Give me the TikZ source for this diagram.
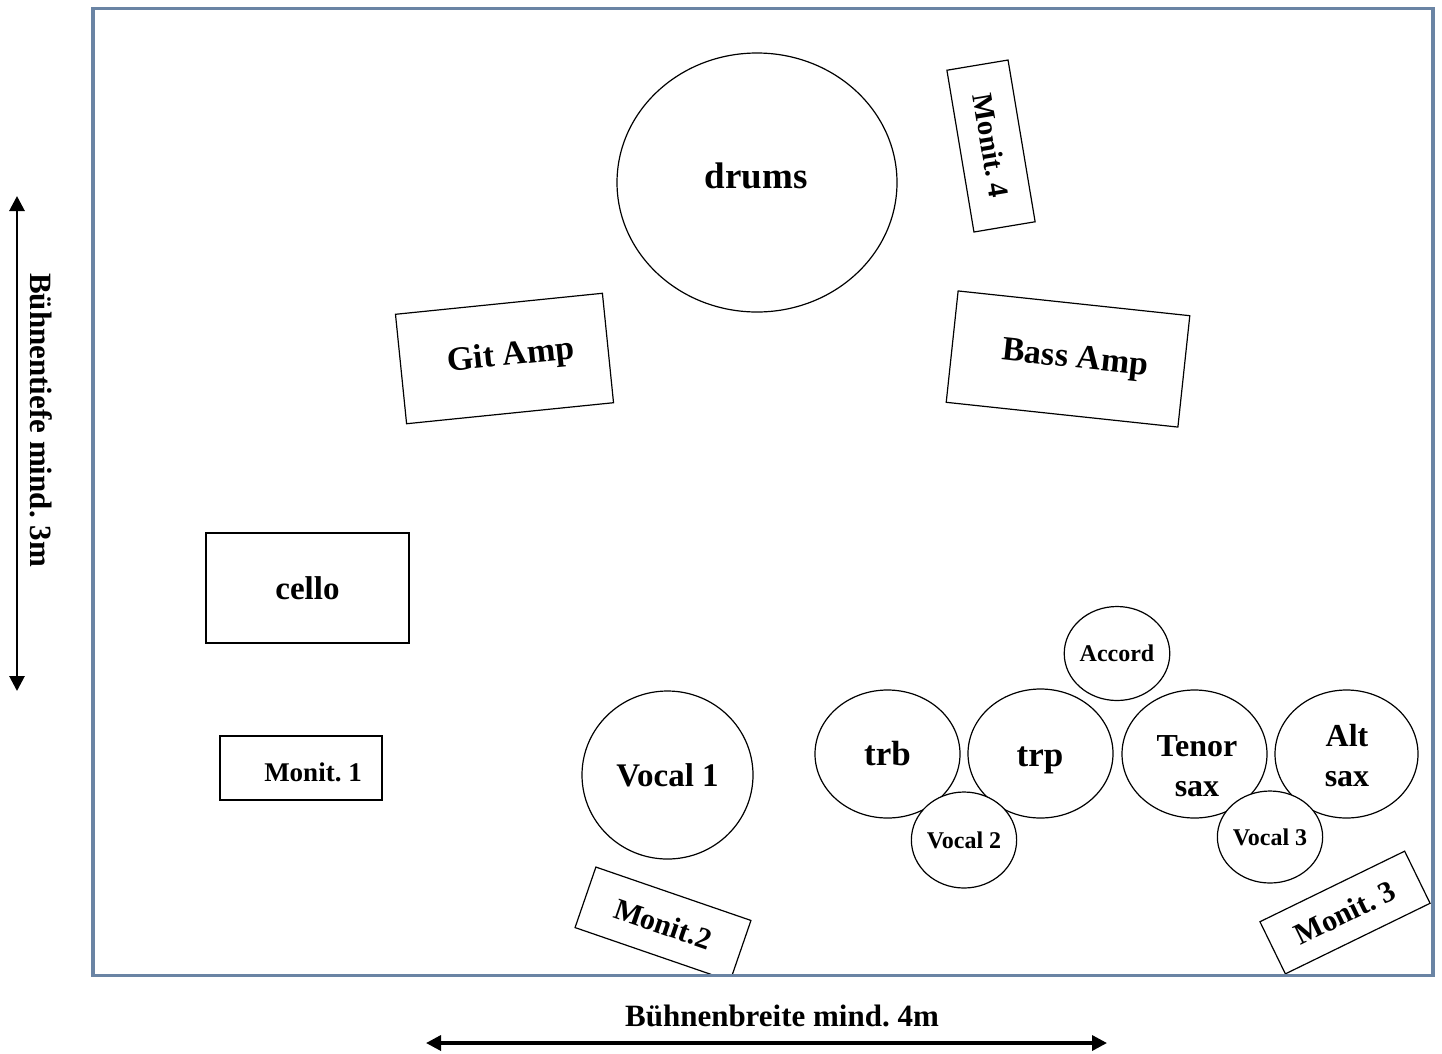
\documentclass[tikz,border=0pt]{standalone}
\usepackage{fontspec}
\setmainfont{Liberation Serif}
\usetikzlibrary{shapes.geometric,arrows.meta}
\definecolor{framecol}{RGB}{106,132,164}
\tikzset{
  box/.style={draw, line width=1.2pt, fill=white, inner sep=0pt, align=center},
  ell/.style={draw, ellipse, line width=1.2pt, fill=white, inner sep=0pt, align=center},
  lbl/.style={inner sep=0pt, align=center},
  dimarrow/.style={{Triangle[length=15pt,width=15pt]}-{Triangle[length=15pt,width=15pt]}},
}
\newcommand{\fsz}[2]{\bfseries\fontsize{#1}{#2}\selectfont}
\frenchspacing
\begin{document}
\begin{tikzpicture}[x=1pt,y=-1pt]
\useasboundingbox (0,0) rectangle (1442,1053);
\fill[white] (0,0) rectangle (1442,1053);

\begin{scope}
\clip (93,8.5) rectangle (1433,975.5);
% drums
\node[ell, minimum width=280pt, minimum height=259pt] (drums) at (757,182.5) {};
\node[lbl, font=\fsz{37}{44}] (drumst) at (756,176) {drums};
% Monit. 4
\node[box, minimum width=164pt, minimum height=62pt, rotate=-80.5, font=\fsz{29}{34}] (m4) at (991,146) {Monit. 4};
% Git Amp
\node[box, minimum width=208pt, minimum height=110pt, rotate=5.8] (git) at (504.5,358.5) {};
\node[lbl, rotate=5.8, font=\fsz{34}{40}] (gitt) at (511,357) {Git Amp};
% Bass Amp
\node[box, minimum width=233pt, minimum height=112pt, rotate=-6.1] (bass) at (1068,359) {};
\node[lbl, rotate=-6.1, font=\fsz{34}{40}] (basst) at (1075,360) {Bass Amp};
% cello
\node[box, minimum width=203pt, minimum height=110pt, font=\fsz{33}{40}] (cello) at (307.5,588) {cello};
% Monit. 1
\node[box, minimum width=162pt, minimum height=64pt] (m1) at (301,768) {};
\node[lbl, font=\fsz{27}{32}] (m1t) at (313,772) {Monit. 1};
% Vocal 1
\node[ell, minimum width=171pt, minimum height=168pt, font=\fsz{33}{40}] (v1) at (667.5,775) {Vocal 1};
% Monit.2
\node[box, minimum width=164pt, minimum height=64pt, rotate=-19, font=\fsz{30}{36}] (m2) at (663,924) {Monit.2};
% Monit. 3
\node[box, minimum width=161pt, minimum height=58pt, rotate=26, font=\fsz{30}{36}] (m3) at (1345,912.5) {Monit. 3};
% band circles
\node[ell, minimum width=98pt, minimum height=94pt, font=\fsz{24}{30}] (acc) at (1117,653.5) {Accord};
\node[ell, minimum width=145pt, minimum height=128pt, font=\fsz{35}{40}] (trb) at (887.5,754) {trb};
\node[ell, minimum width=145pt, minimum height=129pt] (trp) at (1040.5,753.5) {};
\node[lbl, font=\fsz{35}{40}] (trpt) at (1040,760) {trp};
\node[ell, minimum width=145pt, minimum height=128pt] (ten) at (1194.5,754) {};
\node[lbl, font=\fsz{32}{40}] (tent) at (1197,766) {Tenor\\sax};
\node[ell, minimum width=143pt, minimum height=128pt] (alt) at (1346.5,754) {};
\node[lbl, font=\fsz{32}{40}] (altt) at (1347,756) {Alt\\sax};
\node[ell, minimum width=98pt, minimum height=96pt, font=\fsz{24}{30}] (v2) at (964,840) {Vocal 2};
\node[ell, minimum width=100pt, minimum height=92pt, font=\fsz{24}{30}] (v3) at (1270,837) {Vocal 3};
\end{scope}

% stage frame
\draw[framecol, line width=3.8pt] (93,8.5) rectangle (1433,975.5);

% dimension arrows
\coordinate (vt) at (17,196);
\coordinate (vb) at (17,691);
\draw[dimarrow, line width=2.8pt] (vt) -- (vb);
\node[lbl, rotate=-90, font=\fsz{31}{36}] (depth) at (41,420) {Bühnentiefe mind. 3m};

\coordinate (hl) at (426,1043);
\coordinate (hr) at (1107,1043);
\draw[dimarrow, line width=3.4pt] (hl) -- (hr);
\node[lbl, font=\fsz{31}{36}] (width) at (782,1016) {Bühnenbreite mind. 4m};
\end{tikzpicture}
\end{document}
